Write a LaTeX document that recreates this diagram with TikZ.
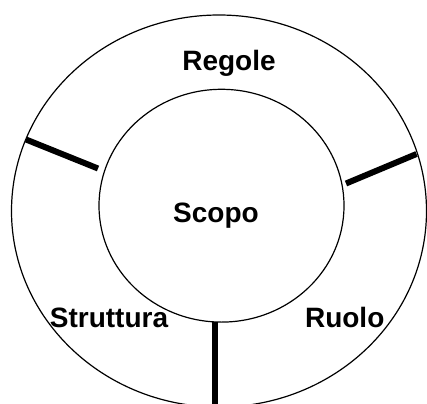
\documentclass[tikz,border=0pt]{standalone}
\usepackage{fontspec}
\setmainfont{Liberation Sans}
\begin{document}
\begin{tikzpicture}[x=1pt,y=-1pt,
  ring/.style={draw=black,line width=1.2pt},
  spoke/.style={draw=black,line width=6pt},
  lbl/.style={font=\fontsize{28}{30}\selectfont\bfseries,anchor=base,inner sep=0pt}]
\useasboundingbox (0,0) rectangle (427,403);
\fill[white] (0,0) rectangle (427,403);
% rings
\draw[ring] (219,211) ellipse [x radius=207.5, y radius=196];
\draw[ring] (221.5,205.7) ellipse [x radius=122.5, y radius=116.4];
% spoke end points
\coordinate (lo) at (26,139.5);
\coordinate (li) at (98,168.5);
\coordinate (ri) at (346,183.5);
\coordinate (ro) at (416.5,154);
\coordinate (bi) at (215,322);
\coordinate (bo) at (215,405);
\draw[spoke] (lo) -- (li);
\draw[spoke] (ri) -- (ro);
\draw[spoke,line width=6.5pt] (bi) -- (bo);
% labels
\node[lbl] (regole) at (229,70.5) {Regole};
\node[lbl] (scopo) at (216,222.5) {Scopo};
\node[lbl] (struttura) at (109,327.5) {Struttura};
\node[lbl] (ruolo) at (344.7,327.8) {Ruolo};
\end{tikzpicture}
\end{document}
